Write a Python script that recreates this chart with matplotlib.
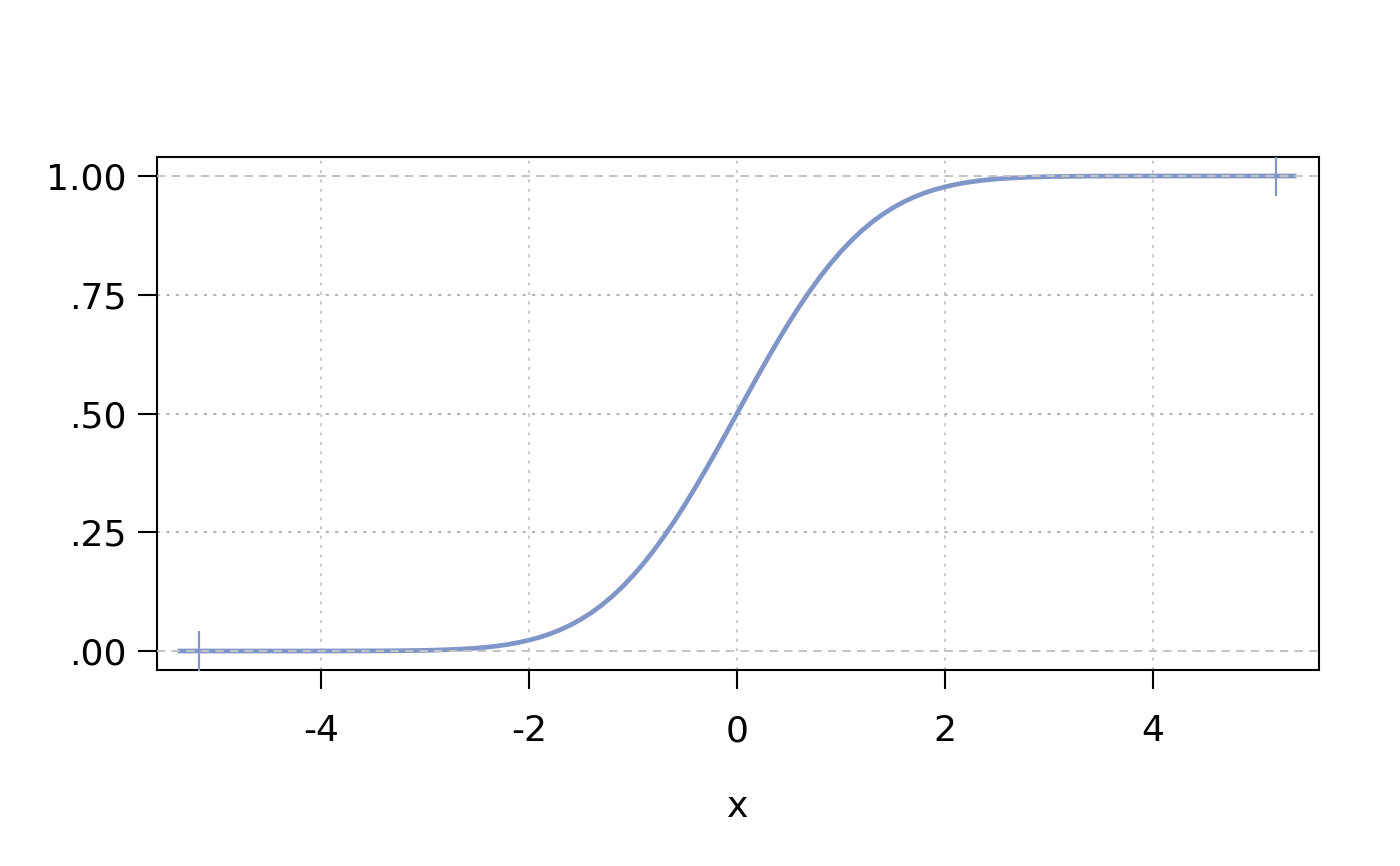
import matplotlib
matplotlib.use('Agg')
import matplotlib.pyplot as plt

# values
x_vals = [-5.38, -4.8, -4.2, -3.8, -3.4, -3.2,
          -3.0, -2.9, -2.8, -2.7, -2.6, -2.5, -2.4, -2.3, -2.2, -2.1,
          -2.0, -1.9, -1.8, -1.7, -1.6, -1.5, -1.4, -1.3, -1.2, -1.1,
          -1.0, -0.9, -0.8, -0.7, -0.6, -0.5, -0.4, -0.3, -0.2, -0.1,
          0.0, 0.1, 0.2, 0.3, 0.4, 0.5, 0.6, 0.7, 0.8, 0.9,
          1.0, 1.1, 1.2, 1.3, 1.4, 1.5, 1.6, 1.7, 1.8, 1.9,
          2.0, 2.1, 2.2, 2.3, 2.4, 2.5, 2.6, 2.7, 2.8, 2.9,
          3.0, 3.2, 3.4, 3.8, 4.2, 4.8, 5.38]
y_vals = [0.0, 0.0, 0.0, 0.0001, 0.0003, 0.0007,
          0.0013, 0.0019, 0.0026, 0.0035, 0.0047, 0.0062, 0.0082, 0.0107, 0.0139, 0.0179,
          0.0228, 0.0287, 0.0359, 0.0446, 0.0548, 0.0668, 0.0808, 0.0968, 0.1151, 0.1357,
          0.1587, 0.1841, 0.2119, 0.2420, 0.2743, 0.3085, 0.3446, 0.3821, 0.4207, 0.4602,
          0.5, 0.5398, 0.5793, 0.6179, 0.6554, 0.6915, 0.7257, 0.7580, 0.7881, 0.8159,
          0.8413, 0.8643, 0.8849, 0.9032, 0.9192, 0.9332, 0.9452, 0.9554, 0.9641, 0.9713,
          0.9772, 0.9821, 0.9861, 0.9893, 0.9918, 0.9938, 0.9953, 0.9965, 0.9974, 0.9981,
          0.9987, 0.9993, 0.9997, 0.9999, 1.0, 1.0, 1.0]
end_x = [-5.17, 5.18]
end_y = [0.0, 1.0]

x_ticks = [-4, -2, 0, 2, 4]
y_ticks = [0, 0.25, 0.5, 0.75, 1.0]
y_labels = ['.00', '.25', '.50', '.75', '1.00']

col = '#8096c8'

fig = plt.figure(figsize=(14, 8.66), dpi=100)
ax = fig.add_axes([157/1400, 1 - 670/866, (1319-157)/1400, (670-157)/866])

for xt in x_ticks:
	ax.axvline(xt, color='#cccccc', lw=1.5, ls=(0, (1.5, 3)), zorder=1)
for yt in [0.25, 0.5, 0.75]:
	ax.axhline(yt, color='#b5b5b5', lw=1.5, ls=(0, (1.5, 3)), zorder=1)

ax.plot(x_vals, y_vals, color=col, lw=3.4, solid_capstyle='butt', zorder=2)
ax.plot(end_x, end_y, ls='none', marker='+', ms=29, mew=1.6, color=col, zorder=3)
# dashed reference lines drawn over the flat tails
for yt in [0.0, 1.0]:
	ax.axhline(yt, color='#c4c4c4', lw=1.5, ls=(0, (4, 3)), zorder=4)

ax.set_xlim(-5.577, 5.596)
ax.set_ylim(-0.04, 1.04)
ax.set_xticks(x_ticks)
ax.set_xticklabels([str(t) for t in x_ticks])
ax.set_yticks(y_ticks)
ax.set_yticklabels(y_labels)
ax.tick_params(axis='both', length=14, width=1.5, labelsize=26, pad=8)
ax.tick_params(axis='x', pad=18)
for s in ax.spines.values():
	s.set_linewidth(1.5)
ax.set_xlabel('x', fontsize=26, labelpad=30)

fig.savefig('out.png', dpi=100)
